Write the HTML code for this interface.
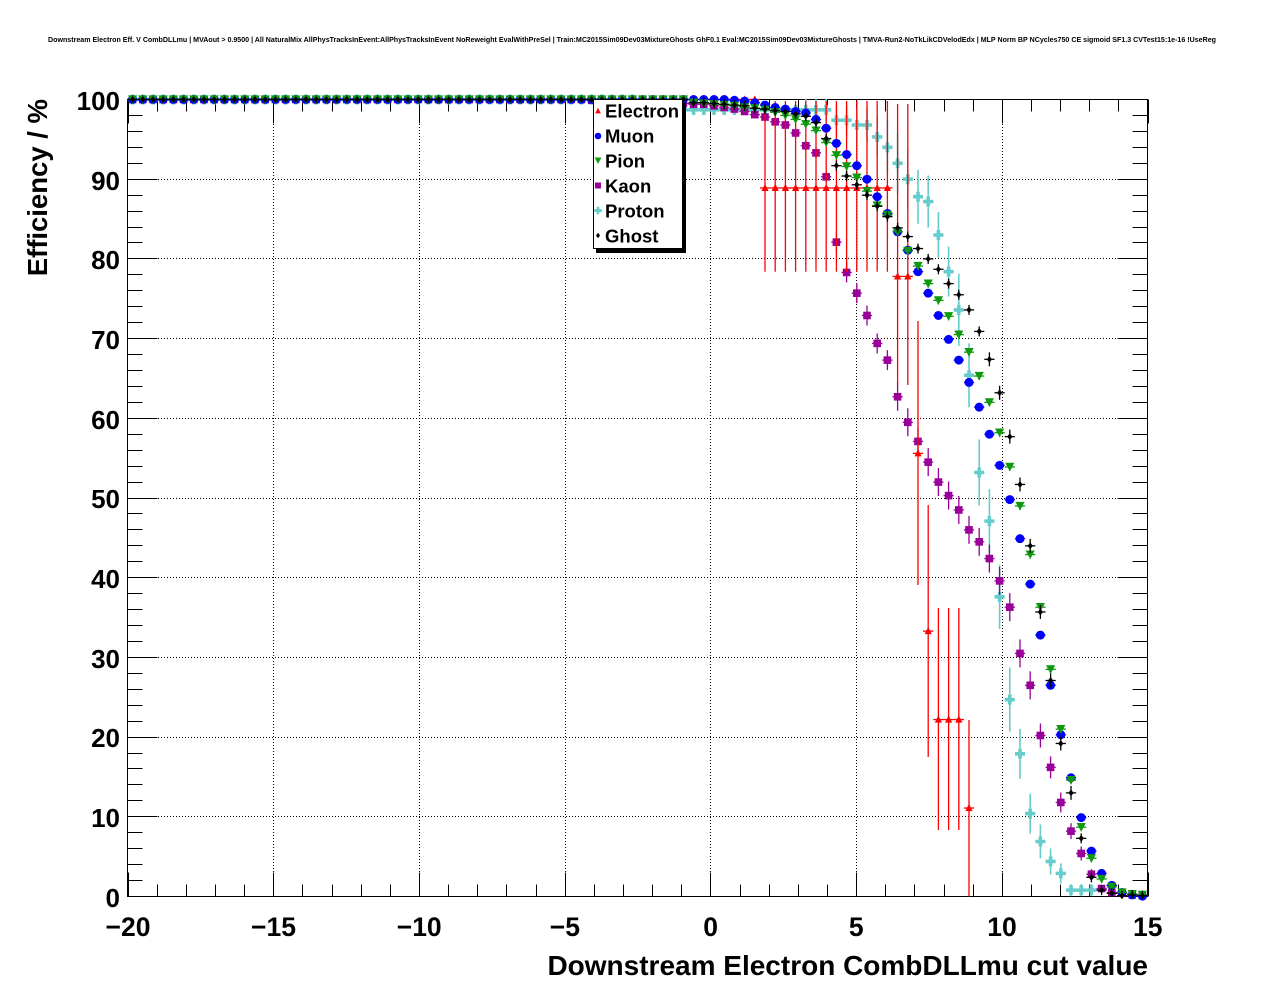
<!DOCTYPE html>
<html><head><meta charset="utf-8"><style>
html,body{margin:0;padding:0;background:#fff;}
svg{display:block;font-family:"Liberation Sans",Arial,sans-serif;}
</style></head><body>
<svg id="c" xmlns="http://www.w3.org/2000/svg" width="1276" height="996" viewBox="0 0 1276 996">
<rect width="1276" height="996" fill="#fff"/>
<text x="632" y="42" font-size="7.2" font-weight="bold" text-anchor="middle" textLength="1168" lengthAdjust="spacingAndGlyphs">Downstream Electron Eff. V CombDLLmu | MVAout &gt; 0.9500 | All NaturalMix AllPhysTracksInEvent:AllPhysTracksInEvent NoReweight EvalWithPreSel | Train:MC2015Sim09Dev03MixtureGhosts GhF0.1 Eval:MC2015Sim09Dev03MixtureGhosts | TMVA-Run2-NoTkLikCDVelodEdx | MLP Norm BP NCycles750 CE sigmoid SF1.3 CVTest15:1e-16 !UseReg</text>
<g id="grid"></g>
<rect x="127.5" y="99.5" width="1020" height="797" fill="none" stroke="#000" stroke-width="1"/>
<g id="ticks"></g>
<g font-size="26" font-weight="bold" text-anchor="end">
<text x="120" y="110">100</text>
<text x="120" y="190">90</text>
<text x="120" y="269">80</text>
<text x="120" y="349">70</text>
<text x="120" y="429">60</text>
<text x="120" y="508">50</text>
<text x="120" y="588">40</text>
<text x="120" y="668">30</text>
<text x="120" y="747">20</text>
<text x="120" y="827">10</text>
<text x="120" y="907">0</text>
</g>
<g font-size="26.5" font-weight="bold" text-anchor="middle">
<text x="128" y="936">−20</text>
<text x="273.5" y="936">−15</text>
<text x="419.2" y="936">−10</text>
<text x="564.9" y="936">−5</text>
<text x="710.6" y="936">0</text>
<text x="856.3" y="936">5</text>
<text x="1002" y="936">10</text>
<text x="1147.7" y="936">15</text>
</g>
<text x="1148" y="975" font-size="28" font-weight="bold" text-anchor="end">Downstream Electron CombDLLmu cut value</text>
<text transform="translate(47,99) rotate(-90)" font-size="27.5" font-weight="bold" text-anchor="end">Efficiency / %</text>
<g id="data"></g>
<rect x="596" y="103" width="90" height="150" fill="#000"/>
<rect x="593.5" y="99.5" width="89" height="149" fill="#fff" stroke="#000" stroke-width="1"/>
<g id="legm"></g>
<g font-size="18.5" font-weight="bold">
<text x="605" y="117.5">Electron</text>
<text x="605" y="142.5">Muon</text>
<text x="605" y="167.5">Pion</text>
<text x="605" y="192.5">Kaon</text>
<text x="605" y="217.5">Proton</text>
<text x="605" y="242.5">Ghost</text>
</g>
</svg>
<script>
(function(){
const bw=10.2;
const cx=i=>127.5+(i+0.5)*bw;
const Y=p=>896.5-p*7.97;
const X=v=>127.5+(v+20)*1020/35;
function fill(start,arr,pre){const a=new Array(100).fill(pre===undefined?100:pre);arr.forEach((v,k)=>a[start+k]=v);return a;}
// grid
let g='';
for(let v=-15;v<=10;v+=5){const x=Math.round(X(v))+0.5;g+=`<line x1="${x}" y1="100" x2="${x}" y2="896" stroke="#000" stroke-width="1" stroke-dasharray="1,2"/>`;}
for(let p=10;p<=90;p+=10){const y=Math.round(Y(p)-0.5)+0.5;g+=`<line x1="128" y1="${y}" x2="1147" y2="${y}" stroke="#000" stroke-width="1" stroke-dasharray="1,2"/>`;}
document.getElementById('grid').innerHTML=g;
// ticks
let t='';
for(let v=-20;v<=15;v+=1){const x=Math.round(X(v))+0.5;const L=(v%5===0)?24:12;
 t+=`<line x1="${x}" y1="896.5" x2="${x}" y2="${896.5-L}" stroke="#000"/>`;
 t+=`<line x1="${x}" y1="99.5" x2="${x}" y2="${99.5+L}" stroke="#000"/>`;}
for(let p=0;p<=100;p+=2){const y=Math.round(Y(p)-0.5)+0.5;const L=(p%10===0)?30:15;
 t+=`<line x1="127.5" y1="${y}" x2="${127.5+L}" y2="${y}" stroke="#000"/>`;
 t+=`<line x1="1147.5" y1="${y}" x2="${1147.5-L}" y2="${y}" stroke="#000"/>`;}
document.getElementById('ticks').innerHTML=t;

// markers
const RED='#ff0000',BLUE='#0000ff',GREEN='#0f990f',PURP='#990099',CYAN='#66cccc',BLK='#000';
const mk={
 triU:(x,y,c,s)=>`<polygon points="${x-s},${y+s*0.85} ${x+s},${y+s*0.85} ${x},${y-s*1.15}" fill="${c}"/>`,
 circ:(x,y,c,s)=>`<circle cx="${x}" cy="${y}" r="${s}" fill="${c}"/>`,
 triD:(x,y,c,s)=>`<polygon points="${x-s},${y-s*0.9} ${x+s},${y-s*0.9} ${x},${y+s}" fill="${c}"/>`,
 sq:(x,y,c,s)=>`<rect x="${x-s}" y="${y-s}" width="${2*s}" height="${2*s}" fill="${c}"/>`,
 cross:(x,y,c,s)=>{const w=s*0.36;return `<path d="M${x-s},${y-w}H${x-w}V${y-s}H${x+w}V${y-w}H${x+s}V${y+w}H${x+w}V${y+s}H${x-w}V${y+w}H${x-s}Z" fill="${c}"/>`;},
 dia:(x,y,c,s)=>`<polygon points="${x},${y-s*1.35} ${x+s},${y} ${x},${y+s*1.35} ${x-s},${y}" fill="${c}"/>`
};
function series(vals,barFn,c,m,s,sw){
 let o='';
 for(let i=0;i<100;i++){const v=vals[i];if(v===null||v===undefined)continue;
  const x=cx(i),y=Y(v);const b=barFn(i,v,y);
  o+=`<line x1="${x-bw/2}" y1="${y}" x2="${x+bw/2}" y2="${y}" stroke="${c}" stroke-width="${sw}"/>`;
  if(b&&b[1]-b[0]>0.5)o+=`<line x1="${x}" y1="${b[0]}" x2="${x}" y2="${b[1]}" stroke="${c}" stroke-width="${sw}"/>`;
  o+=mk[m](x,y,c,s);}
 return o;}
const sym=(h)=>(i,v,y)=>v>=100?null:[y-h(i),Math.min(896.5,y+h(i))];

// Electron
const E=new Array(100).fill(100);
for(let i=62;i<=74;i++)E[i]=88.9;E[75]=77.8;E[76]=77.8;E[77]=55.6;E[78]=33.3;E[79]=22.2;E[80]=22.2;E[81]=22.2;E[82]=11.1;
for(let i=83;i<100;i++)E[i]=null;
const Eb=(i,v,y)=>{if(i>=62&&i<=74)return[101,271.7];if(i==75||i==76)return[104,385];if(i==77)return[321,585];if(i==78)return[505,757];if(i>=79&&i<=81)return[608,830];if(i==82)return[720,896.5];return null;};
// Muon
const M=fill(59,[99.9,99.8,99.6,99.3,99.0,98.8,98.5,98.3,97.5,96.4,94.5,93.1,91.7,90.0,87.8,85.7,83.4,81.1,78.4,75.7,72.9,69.9,67.3,64.5,61.4,58.0,54.1,49.8,44.9,39.2,32.8,26.5,20.3,14.9,9.9,5.7,2.9,1.4,0.5,0.2,0.05]);
// Pion
const P=fill(55,[99.6,99.5,99.4,99.3,99.2,99.0,98.9,98.7,98.4,98.0,97.5,96.9,96.1,94.6,93.0,91.6,90.2,88.5,86.7,85.5,83.4,81.0,79.1,76.9,74.8,72.8,70.5,68.3,65.3,62.0,58.2,53.9,49.0,42.9,36.3,28.5,21.0,14.6,8.7,4.8,2.2,1.2,0.5,0.3,0.2]);
// Kaon
const K=fill(45,[99.9,99.9,99.8,99.8,99.7,99.7,99.6,99.6,99.5,99.5,
 99.4,99.4,99.2,99.0,98.8,98.5,98.1,97.8,97.2,96.8,95.8,94.2,93.3,90.3,82.1,78.3,75.7,72.9,69.4,67.3,62.7,59.5,57.1,54.5,52.0,50.3,48.5,46.0,44.5,42.4,39.6,36.3,30.5,26.5,20.2,16.2,11.8,8.2,5.4,2.8,1.0,0.5,0.4,0.2,0.1]);
const Kh=i=>i<65?3:i<69?5:i<75?10:i<89?14:i==89?12:i==90?11:i==91?10:i==92?8:i==93?7:i==94?5:3;
// Proton
const PR=new Array(100).fill(100);
for(let i=50;i<=68;i++)PR[i]=98.7;
[97.4,97.4,96.8,96.8,95.3,94.0,92.0,90.0,87.8,87.2,83.0,78.4,73.6,65.4,53.2,47.1,37.6,24.7,17.9,10.4,6.9,4.4,2.9,0.8,0.8,0.8].forEach((v,k)=>PR[69+k]=v);
for(let i=95;i<100;i++)PR[i]=null;
const PRh={66:11,67:11,68:11,69:15,70:15,71:17,72:17,73:21,74:26,75:30,76:30,77:27,78:26,79:23,80:25,81:36,82:32,83:33,84:32,85:32,86:32,87:25,88:20,89:17,90:13,91:10,92:6,93:6,94:6};
// Ghost
const G=fill(55,[99.6,99.6,99.5,99.4,99.3,99.2,98.9,98.8,98.6,98.5,98.2,97.9,97.1,95.1,91.7,90.4,89.3,88.0,86.6,85.3,83.9,82.8,81.3,80.0,78.7,76.9,75.5,73.6,70.9,67.4,63.2,57.7,51.7,44.0,35.7,27.1,19.2,13.0,7.3,2.4,0.8,0.4,0.1,0.2,0.1]);
const Gh=i=>(i>=84&&i<=92)?7:5;

let d='';
d+=series(PR,sym(i=>PRh[i]||5),CYAN,'cross',5,1.6);
d+=series(K,sym(Kh),PURP,'sq',3.8,1.3);
d+=series(E,Eb,RED,'triU',3.6,1.3);
d+=series(M,sym(i=>2),BLUE,'circ',4.5,1.3);
d+=series(P,sym(i=>4),GREEN,'triD',4.6,1.3);
d+=series(G,sym(Gh),BLK,'dia',2.6,1.3);
document.getElementById('data').innerHTML=d;

let l='';
l+=mk.triU(598,111,RED,2.8);
l+=mk.circ(598,136,BLUE,3.3);
l+=mk.triD(598,160.5,GREEN,3.4);
l+=mk.sq(598,185.5,PURP,3);
l+=mk.cross(598,210.5,CYAN,3.8);
l+=mk.dia(598,235.5,BLK,2);
document.getElementById('legm').innerHTML=l;
})();
</script>
</body></html>
